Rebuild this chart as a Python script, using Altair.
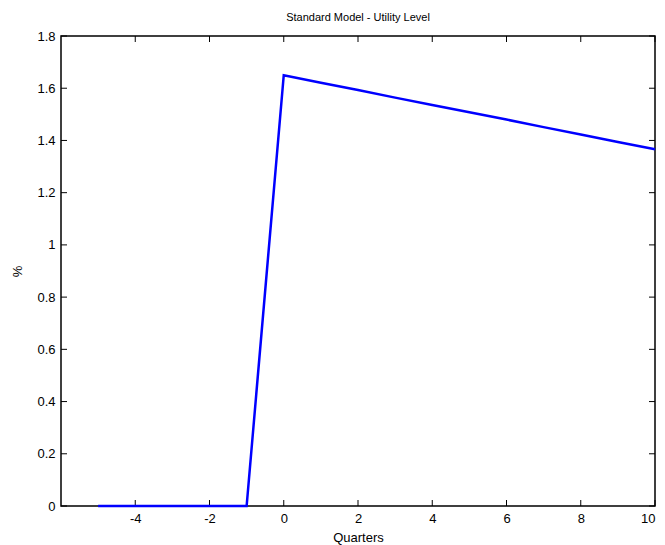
import altair as alt
import pandas as pd

quarters = [-5, -4, -3, -2, -1, 0, 1, 2, 3, 4, 5, 6, 7, 8, 9, 10]
utility = [0, 0, 0, 0, 0, 1.65, 1.621, 1.593, 1.564, 1.536, 1.508, 1.480, 1.451, 1.423, 1.394, 1.366]
x_ticks = [-4, -2, 0, 2, 4, 6, 8, 10]
y_ticks = [0, 0.2, 0.4, 0.6, 0.8, 1.0, 1.2, 1.4, 1.6, 1.8]

W, H = 594, 470
FONT = "Liberation Sans"

df = pd.DataFrame({"q": quarters, "u": utility})
xt = pd.DataFrame({"t": x_ticks})
yt = pd.DataFrame({"t": y_ticks})

xscale = alt.Scale(domain=[-6, 10], nice=False, zero=False)
yscale = alt.Scale(domain=[0, 1.8], nice=False)

line = alt.Chart(df).mark_line(color="#0000ff", strokeWidth=2.5).encode(
    x=alt.X("q:Q", scale=xscale,
            axis=alt.Axis(values=x_ticks, title="Quarters", ticks=False, domain=False, grid=False,
                          labelFont=FONT, labelFontSize=13, labelColor="black", labelPadding=6,
                          titleFont=FONT, titleFontSize=13, titleFontWeight="normal", titleColor="black",
                          titlePadding=6, labelExpr="datum.value + ''")),
    y=alt.Y("u:Q", scale=yscale,
            axis=alt.Axis(values=y_ticks, title="%", ticks=False, domain=False, grid=False,
                          labelFont=FONT, labelFontSize=13, labelColor="black", labelPadding=6,
                          titleFont=FONT, titleFontSize=13, titleFontWeight="normal", titleColor="black",
                          titlePadding=12, labelExpr="datum.value + ''")),
)

tick_style = dict(color="black", thickness=1, size=6, opacity=1)
xb = alt.Chart(xt).mark_tick(**tick_style).encode(x=alt.X("t:Q", scale=xscale), y=alt.value(H - 3))
xtop = alt.Chart(xt).mark_tick(**tick_style).encode(x=alt.X("t:Q", scale=xscale), y=alt.value(3))
yl = alt.Chart(yt).mark_tick(**tick_style).encode(y=alt.Y("t:Q", scale=yscale), x=alt.value(3))
yr = alt.Chart(yt).mark_tick(**tick_style).encode(y=alt.Y("t:Q", scale=yscale), x=alt.value(W - 3))

chart = alt.layer(xb, xtop, yl, yr, line).properties(
    width=W, height=H,
    title=alt.TitleParams("Standard Model - Utility Level", font=FONT, fontSize=11,
                          fontWeight="normal", color="black", offset=7),
    padding={"left": 61, "top": 36, "right": 10, "bottom": 39},
    autosize=alt.AutoSizeParams(type="none"),
    background="white",
).configure_view(stroke="black", strokeWidth=1.5)

chart.save("out.html", embed_options={"renderer": "svg", "actions": False})
